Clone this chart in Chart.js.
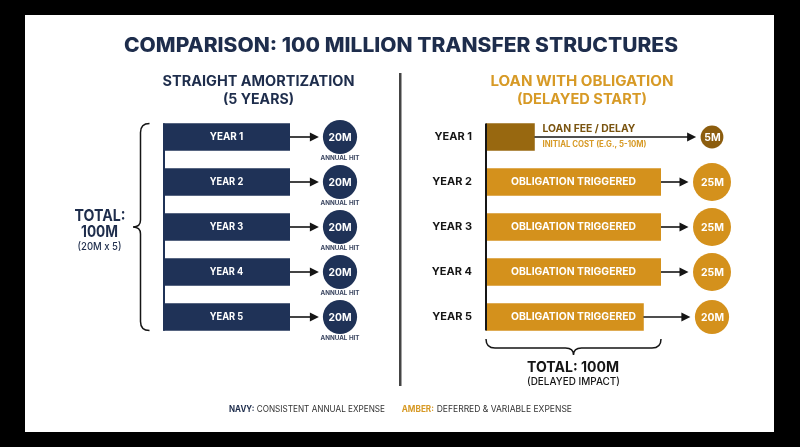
<!DOCTYPE html>
<html><head><meta charset="utf-8">
<script src="https://cdn.jsdelivr.net/npm/chart.js@4.4.1/dist/chart.umd.min.js"></script>
<style>
html,body{margin:0;padding:0;background:#000;width:800px;height:447px;overflow:hidden}
canvas{position:absolute;left:0;top:0}
</style></head><body>
<canvas id="left" width="800" height="447"></canvas>
<canvas id="right" width="800" height="447"></canvas>
<script>
// ---- data ----
const years = ['YEAR 1', 'YEAR 2', 'YEAR 3', 'YEAR 4', 'YEAR 5'];
const straightValues = [20, 20, 20, 20, 20];
const loanValues = [5, 25, 25, 25, 20];
const loanBarText = ['', 'OBLIGATION TRIGGERED', 'OBLIGATION TRIGGERED', 'OBLIGATION TRIGGERED', 'OBLIGATION TRIGGERED'];
const loanFirstTitle = 'LOAN FEE / DELAY';
const loanFirstNote = 'INITIAL COST (E.G., 5-10M)';
const circleNote = 'ANNUAL HIT';
const titleText = 'COMPARISON: 100 MILLION TRANSFER STRUCTURES';
const leftHeading = ['STRAIGHT AMORTIZATION', '(5 YEARS)'];
const rightHeading = ['LOAN WITH OBLIGATION', '(DELAYED START)'];
const leftTotal = ['TOTAL:', '100M', '(20M x 5)'];
const rightTotal = ['TOTAL: 100M', '(DELAYED IMPACT)'];
const legendItems = [['NAVY:', 'CONSISTENT ANNUAL EXPENSE'], ['AMBER:', 'DEFERRED & VARIABLE EXPENSE']];

// ---- style ----
const FONT = 'Inter, "Open Sans", sans-serif';
const NAVY = '#1f3257';
const NAVY_TXT = '#1e2d4c';
const AMBER = '#d4911c';
const AMBER_TXT = '#d79a26';
const BROWN = '#986810';
const BROWN_DARK = '#8c5d0e';
const BROWN_TXT = '#7a5410';
const INK = '#151515';

function txt(ctx, s, x, y, o) {
  ctx.save();
  ctx.font = `${o.weight || 700} ${o.size}px ${FONT}`;
  ctx.fillStyle = o.color;
  ctx.textBaseline = 'middle';
  ctx.textAlign = o.align || 'center';
  ctx.translate(x, y);
  if (o.width) {
    const w = ctx.measureText(s).width;
    ctx.scale(o.width / w, 1);
  }
  ctx.fillText(s, 0, 0);
  ctx.restore();
}
function radiusFor(v) { return 9.5 + 0.38 * v; }
function arrow(ctx, x0, x1, y) {
  ctx.save();
  ctx.strokeStyle = INK; ctx.fillStyle = INK; ctx.lineWidth = 1.6;
  ctx.beginPath(); ctx.moveTo(x0, y); ctx.lineTo(x1 - 7, y); ctx.stroke();
  ctx.beginPath(); ctx.moveTo(x1, y); ctx.lineTo(x1 - 9, y - 4.5); ctx.lineTo(x1 - 9, y + 4.5); ctx.closePath(); ctx.fill();
  ctx.restore();
}

const backgroundPlugin = {
  id: 'bg',
  beforeDraw(chart) {
    const ctx = chart.ctx;
    ctx.save();
    ctx.fillStyle = '#000'; ctx.fillRect(0, 0, 800, 447);
    ctx.fillStyle = '#fff'; ctx.fillRect(25, 15, 749, 417);
    ctx.fillStyle = '#444'; ctx.fillRect(399, 73, 2.5, 313);
    ctx.restore();
    txt(ctx, titleText, 401, 46, {size: 19.5, color: NAVY_TXT, width: 554, weight: 800});
    txt(ctx, leftHeading[0], 258.5, 82, {size: 14, color: NAVY_TXT, width: 192});
    txt(ctx, leftHeading[1], 258.5, 100, {size: 14, color: NAVY_TXT, width: 71});
    txt(ctx, rightHeading[0], 582, 82, {size: 14, color: AMBER_TXT, width: 183});
    txt(ctx, rightHeading[1], 582, 100, {size: 14, color: AMBER_TXT, width: 130});
    txt(ctx, legendItems[0][0], 229, 409.5, {size: 9, color: NAVY_TXT, align: 'left', width: 25.3});
    txt(ctx, legendItems[0][1], 256.7, 409.5, {size: 9, weight: 400, color: '#333', align: 'left', width: 128.3});
    txt(ctx, legendItems[1][0], 401.7, 409.5, {size: 9, color: AMBER_TXT, align: 'left', width: 32.3});
    txt(ctx, legendItems[1][1], 436.7, 409.5, {size: 9, weight: 400, color: '#333', align: 'left', width: 135.3});
  }
};

const leftPlugin = {
  id: 'leftDecor',
  afterDatasetsDraw(chart) {
    const ctx = chart.ctx, area = chart.chartArea;
    const bars = chart.getDatasetMeta(0).data;
    const top = bars[0].y - bars[0].height / 2, bot = bars[4].y + bars[4].height / 2;
    ctx.save();
    ctx.fillStyle = NAVY; ctx.fillRect(area.left, top, 2, bot - top);
    ctx.restore();
    bars.forEach((b, i) => {
      txt(ctx, years[i], (b.base + b.x) / 2, b.y, {size: 10, color: '#fff', width: 33.6});
      const v = straightValues[i];
      const r = radiusFor(v), cx = area.right + 50;
      arrow(ctx, b.x, cx - r - 4, b.y);
      ctx.save(); ctx.fillStyle = NAVY; ctx.beginPath(); ctx.arc(cx, b.y, r, 0, Math.PI * 2); ctx.fill(); ctx.restore();
      txt(ctx, v + 'M', cx, b.y + 0.5, {size: 11, color: '#fff', width: 23});
      txt(ctx, circleNote, cx, b.y + 21.5, {size: 6, color: '#3a4560', width: 39});
    });
    const bx = 140.5, ex = 149.5, tx = 133, mid = (top + bot) / 2;
    ctx.save(); ctx.strokeStyle = INK; ctx.lineWidth = 1.5; ctx.beginPath();
    ctx.moveTo(ex, top);
    ctx.quadraticCurveTo(bx, top, bx, top + 9);
    ctx.lineTo(bx, mid - 7);
    ctx.quadraticCurveTo(bx, mid, tx, mid);
    ctx.quadraticCurveTo(bx, mid, bx, mid + 7);
    ctx.lineTo(bx, bot - 9);
    ctx.quadraticCurveTo(bx, bot, ex, bot);
    ctx.stroke(); ctx.restore();
    txt(ctx, leftTotal[0], 100, 216, {size: 16, color: NAVY_TXT, width: 51});
    txt(ctx, leftTotal[1], 99.5, 232, {size: 15.5, color: NAVY_TXT, width: 37});
    txt(ctx, leftTotal[2], 99.5, 247, {size: 11, weight: 500, color: NAVY_TXT, width: 44});
  }
};

const rightPlugin = {
  id: 'rightDecor',
  afterDatasetsDraw(chart) {
    const ctx = chart.ctx, area = chart.chartArea;
    const bars = chart.getDatasetMeta(0).data;
    const top = bars[0].y - bars[0].height / 2, bot = bars[4].y + bars[4].height / 2;
    ctx.save(); ctx.fillStyle = INK; ctx.fillRect(area.left - 1, top, 2, bot - top); ctx.restore();
    const cx = area.right + 51;
    bars.forEach((b, i) => {
      const v = loanValues[i];
      const r = radiusFor(v);
      if (i === 0) {
        txt(ctx, loanFirstTitle, b.x + 8, b.y - 8, {size: 10.5, color: BROWN_TXT, align: 'left', width: 93});
        txt(ctx, loanFirstNote, b.x + 8, b.y + 7.7, {size: 8.3, color: AMBER_TXT, align: 'left', width: 104});
      } else {
        txt(ctx, loanBarText[i], (area.left + area.right) / 2, b.y, {size: 10.5, color: '#fff', width: 125});
      }
      arrow(ctx, b.x, cx - r - 4.5, b.y);
      ctx.save(); ctx.fillStyle = i === 0 ? BROWN_DARK : AMBER; ctx.beginPath(); ctx.arc(cx, b.y, r, 0, Math.PI * 2); ctx.fill(); ctx.restore();
      txt(ctx, v + 'M', cx + 0.5, b.y + 0.5, {size: 11, color: '#fff', width: i === 0 ? 16.4 : 23});
    });
    const x0 = area.left, x1 = area.right, xm = (x0 + x1) / 2, y0 = 339, ym = 348, yt = 355;
    ctx.save(); ctx.strokeStyle = INK; ctx.lineWidth = 1.5; ctx.beginPath();
    ctx.moveTo(x0, y0);
    ctx.quadraticCurveTo(x0, ym, x0 + 9, ym);
    ctx.lineTo(xm - 8, ym);
    ctx.quadraticCurveTo(xm, ym, xm, yt);
    ctx.quadraticCurveTo(xm, ym, xm + 8, ym);
    ctx.lineTo(x1 - 9, ym);
    ctx.quadraticCurveTo(x1, ym, x1, y0);
    ctx.stroke(); ctx.restore();
    txt(ctx, rightTotal[0], xm - 0.5, 368, {size: 14.5, color: INK, width: 92});
    txt(ctx, rightTotal[1], xm, 382, {size: 10.5, weight: 500, color: INK, width: 93});
  }
};

new Chart(document.getElementById('left'), {
  type: 'bar',
  data: {labels: years, datasets: [{data: straightValues, backgroundColor: NAVY, barThickness: 27, borderWidth: 0}]},
  options: {
    indexAxis: 'y', responsive: false, animation: false, devicePixelRatio: 1,
    layout: {padding: {left: 163, right: 510, top: 114.5, bottom: 107.5}},
    plugins: {legend: {display: false}, tooltip: {enabled: false}},
    scales: {
      x: {display: false, min: 0, max: Math.max(...straightValues)},
      y: {display: false, offset: true}
    }
  },
  plugins: [backgroundPlugin, leftPlugin]
});

new Chart(document.getElementById('right'), {
  type: 'bar',
  data: {labels: years, datasets: [{data: loanValues, backgroundColor: ctx => ctx.dataIndex === 0 ? BROWN : AMBER, barThickness: 27, borderWidth: 0}]},
  options: {
    indexAxis: 'y', responsive: false, animation: false, devicePixelRatio: 1,
    layout: {padding: {left: 426, right: 139, top: 114.5, bottom: 107.5}},
    plugins: {legend: {display: false}, tooltip: {enabled: false}},
    scales: {
      x: {type: 'logarithmic', display: false, min: 2.7, max: Math.max(...loanValues)},
      y: {
        offset: true,
        grid: {display: false, drawTicks: false},
        border: {display: false},
        ticks: {color: INK, padding: 14, font: {family: FONT, weight: 'bold', size: 11}},
        afterFit(s) { s.width = 60; }
      }
    }
  },
  plugins: [rightPlugin]
});
</script>
</body></html>
